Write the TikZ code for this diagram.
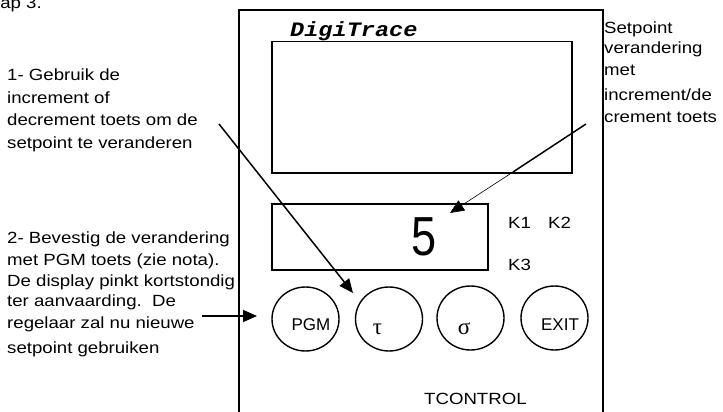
\documentclass[tikz,border=0pt]{standalone}
\usepackage{fontspec}
\setmainfont{Liberation Sans}[FakeStretch=1.15]
\newfontfamily\monob{Liberation Mono}[FakeStretch=1.15]
\newfontfamily\serifx{Liberation Serif}
\newfontfamily\plainsans{Liberation Sans}
\newfontfamily\narrowf{Liberation Sans}[FakeStretch=0.82]
\usetikzlibrary{shapes.geometric,arrows.meta}
\tikzset{
  txt/.style={anchor=base west,inner sep=0pt,font=\fontsize{16.2}{19}\selectfont},
  boxline/.style={draw=black,line width=1.5pt},
  btn/.style={ellipse,draw=black,line width=1.4pt,minimum width=67pt,minimum height=64pt,inner sep=0pt},
  btntxt/.style={anchor=base,inner sep=0pt,font=\plainsans\fontsize{17}{20}\selectfont},
  greek/.style={anchor=base,inner sep=0pt,font=\serifx\fontsize{23}{26}\selectfont},
  arr/.style={line width=1.5pt,-{Triangle[length=14pt,width=12pt]}}
}
\begin{document}
\begin{tikzpicture}[x=1pt,y=-1pt]
\useasboundingbox (0,0) rectangle (723,412);
\clip (0,0) rectangle (723,412);
% device outline
\draw[boxline] (239,430) -- (239,10) -- (603,10) -- (603,430);
\node[boxline,anchor=north west,minimum width=300pt,minimum height=131pt,inner sep=0pt] (disp) at (271,41) {};
\node[boxline,anchor=north west,minimum width=216pt,minimum height=66pt,inner sep=0pt] (disp2) at (271,203) {};
\node[anchor=base west,inner sep=0pt,font=\monob\bfseries\itshape\fontsize{20.5}{24}\selectfont] (brand) at (290,36.5) {DigiTrace};
\node[anchor=base,inner sep=0pt,font=\narrowf\fontsize{55}{60}\selectfont] (val) at (424,255) {5};
\node[txt] (k1) at (508,228) {K1};
\node[txt] (k2) at (548,228) {K2};
\node[txt] (k3) at (508,270) {K3};
% buttons
\node[btn] (b1) at (305.5,319) {};
\node[btn] (b2) at (389,319) {};
\node[btn] (b3) at (470.5,318) {};
\node[btn] (b4) at (554.5,318) {};
\node[btntxt] (l1) at (311,330) {PGM};
\node[greek] (l2) at (377.5,334) {τ};
\node[greek] (l3) at (464,334) {σ};
\node[btntxt] (l4) at (560,330) {EXIT};
\node[txt] (tc) at (424,404) {TCONTROL};
% texts
\node[txt,anchor=base east] (stap) at (42,9) {Stap 3.};
\node[txt] (a1) at (7,81) {1- Gebruik de};
\node[txt] (a2) at (7,103) {increment of};
\node[txt] (a3) at (7,125.5) {decrement toets om de};
\node[txt] (a4) at (7,148) {setpoint te veranderen};
\node[txt] (c1) at (7,243) {2- Bevestig de verandering};
\node[txt] (c2) at (7,265) {met PGM toets (zie nota).};
\node[txt] (c3) at (7,286) {De display pinkt kortstondig};
\node[txt] (c4) at (7,306) {ter aanvaarding.\ \ De};
\node[txt] (c5) at (7,328) {regelaar zal nu nieuwe};
\node[txt] (c6) at (7,353) {setpoint gebruiken};
\node[txt] (r1) at (604,33.5) {Setpoint};
\node[txt] (r2) at (604,53.5) {verandering};
\node[txt] (r3) at (604,76) {met};
\node[txt] (r4) at (604,100) {increment/de};
\node[txt] (r5) at (604,122) {crement toets};
% arrows
\coordinate (s1) at (219,124);
\coordinate (e1) at (353,293);
\draw[arr] (s1) -- (e1);
\coordinate (s2) at (586,124);
\coordinate (m2) at (513,172);
\coordinate (e2) at (450,213);
\draw[line width=1.5pt] (s2) -- (m2);
\draw[line width=0.6pt,-{Triangle[length=14pt,width=12pt]}] (m2) -- (e2);
\coordinate (s3) at (202,316);
\coordinate (e3) at (257,316);
\draw[arr] (s3) -- (e3);
\end{tikzpicture}
\end{document}
